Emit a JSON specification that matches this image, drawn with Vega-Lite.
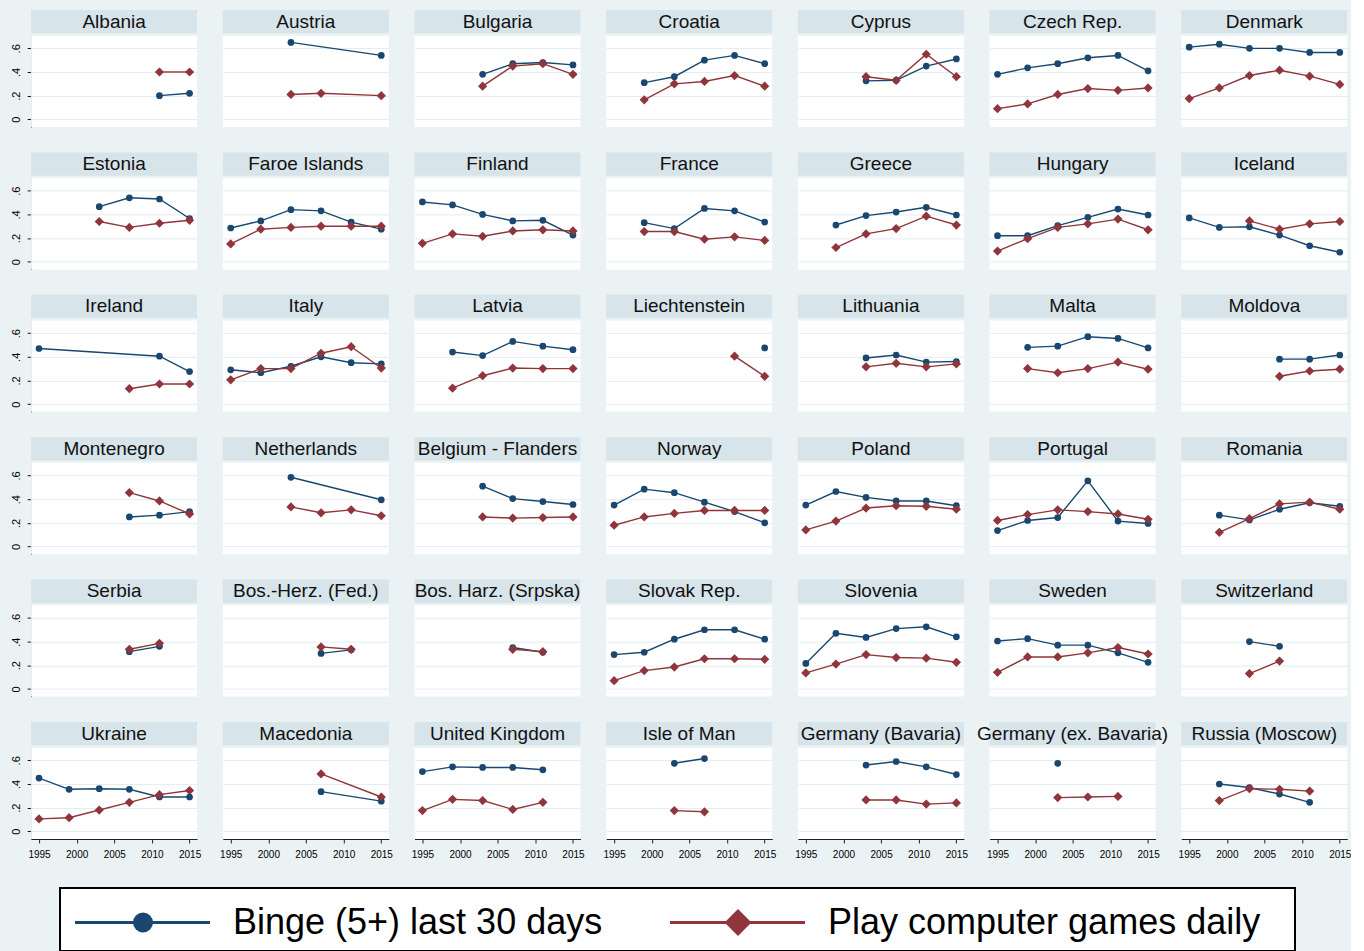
{
 "$schema": "https://vega.github.io/schema/vega-lite/v6.json",
 "background": "#EAF2F3",
 "padding": {"left": 0, "top": 6, "right": 0, "bottom": 0},
 "autosize": {"type": "pad"},
 "config": {
  "font": "Liberation Sans",
  "view": {"stroke": null},
  "header": {"labels": false, "labelFontSize": 0, "labelPadding": 0, "labelExpr": "''", "titlePadding": 0},
  "headerFacet": {"labels": false, "labelFontSize": 0, "labelPadding": 0, "labelExpr": "''"},
  "axisY": {"labelOverlap": false, "labelAngle": -90, "labelAlign": "center", "labelBaseline": "bottom"},
  "axisX": {"labelOverlap": false}
 },
 "datasets": {
  "legend": [
   {"series": "Binge", "label": "Binge (5+) last 30 days"},
   {"series": "Games", "label": "Play computer games daily"}
  ],
  "main": [
   {"country":"Albania","series":"Binge","year":2011,"value":0.20},
   {"country":"Albania","series":"Binge","year":2015,"value":0.22},
   {"country":"Albania","series":"Games","year":2011,"value":0.40},
   {"country":"Albania","series":"Games","year":2015,"value":0.40},
   {"country":"Austria","series":"Binge","year":2003,"value":0.65},
   {"country":"Austria","series":"Binge","year":2015,"value":0.54},
   {"country":"Austria","series":"Games","year":2003,"value":0.21},
   {"country":"Austria","series":"Games","year":2007,"value":0.22},
   {"country":"Austria","series":"Games","year":2015,"value":0.20},
   {"country":"Bulgaria","series":"Binge","year":2003,"value":0.38},
   {"country":"Bulgaria","series":"Binge","year":2007,"value":0.47},
   {"country":"Bulgaria","series":"Binge","year":2011,"value":0.48},
   {"country":"Bulgaria","series":"Binge","year":2015,"value":0.46},
   {"country":"Bulgaria","series":"Games","year":2003,"value":0.28},
   {"country":"Bulgaria","series":"Games","year":2007,"value":0.45},
   {"country":"Bulgaria","series":"Games","year":2011,"value":0.47},
   {"country":"Bulgaria","series":"Games","year":2015,"value":0.38},
   {"country":"Croatia","series":"Binge","year":1999,"value":0.31},
   {"country":"Croatia","series":"Binge","year":2003,"value":0.36},
   {"country":"Croatia","series":"Binge","year":2007,"value":0.50},
   {"country":"Croatia","series":"Binge","year":2011,"value":0.54},
   {"country":"Croatia","series":"Binge","year":2015,"value":0.47},
   {"country":"Croatia","series":"Games","year":1999,"value":0.165},
   {"country":"Croatia","series":"Games","year":2003,"value":0.30},
   {"country":"Croatia","series":"Games","year":2007,"value":0.32},
   {"country":"Croatia","series":"Games","year":2011,"value":0.37},
   {"country":"Croatia","series":"Games","year":2015,"value":0.28},
   {"country":"Cyprus","series":"Binge","year":2003,"value":0.325},
   {"country":"Cyprus","series":"Binge","year":2007,"value":0.33},
   {"country":"Cyprus","series":"Binge","year":2011,"value":0.45},
   {"country":"Cyprus","series":"Binge","year":2015,"value":0.51},
   {"country":"Cyprus","series":"Games","year":2003,"value":0.36},
   {"country":"Cyprus","series":"Games","year":2007,"value":0.33},
   {"country":"Cyprus","series":"Games","year":2011,"value":0.55},
   {"country":"Cyprus","series":"Games","year":2015,"value":0.36},
   {"country":"Czech Rep.","series":"Binge","year":1995,"value":0.38},
   {"country":"Czech Rep.","series":"Binge","year":1999,"value":0.435},
   {"country":"Czech Rep.","series":"Binge","year":2003,"value":0.47},
   {"country":"Czech Rep.","series":"Binge","year":2007,"value":0.52},
   {"country":"Czech Rep.","series":"Binge","year":2011,"value":0.54},
   {"country":"Czech Rep.","series":"Binge","year":2015,"value":0.41},
   {"country":"Czech Rep.","series":"Games","year":1995,"value":0.09},
   {"country":"Czech Rep.","series":"Games","year":1999,"value":0.13},
   {"country":"Czech Rep.","series":"Games","year":2003,"value":0.21},
   {"country":"Czech Rep.","series":"Games","year":2007,"value":0.26},
   {"country":"Czech Rep.","series":"Games","year":2011,"value":0.245},
   {"country":"Czech Rep.","series":"Games","year":2015,"value":0.265},
   {"country":"Denmark","series":"Binge","year":1995,"value":0.61},
   {"country":"Denmark","series":"Binge","year":1999,"value":0.635},
   {"country":"Denmark","series":"Binge","year":2003,"value":0.60},
   {"country":"Denmark","series":"Binge","year":2007,"value":0.60},
   {"country":"Denmark","series":"Binge","year":2011,"value":0.565},
   {"country":"Denmark","series":"Binge","year":2015,"value":0.565},
   {"country":"Denmark","series":"Games","year":1995,"value":0.175},
   {"country":"Denmark","series":"Games","year":1999,"value":0.265},
   {"country":"Denmark","series":"Games","year":2003,"value":0.37},
   {"country":"Denmark","series":"Games","year":2007,"value":0.415},
   {"country":"Denmark","series":"Games","year":2011,"value":0.365},
   {"country":"Denmark","series":"Games","year":2015,"value":0.295},
   {"country":"Estonia","series":"Binge","year":2003,"value":0.465},
   {"country":"Estonia","series":"Binge","year":2007,"value":0.54},
   {"country":"Estonia","series":"Binge","year":2011,"value":0.53},
   {"country":"Estonia","series":"Binge","year":2015,"value":0.365},
   {"country":"Estonia","series":"Games","year":2003,"value":0.34},
   {"country":"Estonia","series":"Games","year":2007,"value":0.29},
   {"country":"Estonia","series":"Games","year":2011,"value":0.325},
   {"country":"Estonia","series":"Games","year":2015,"value":0.35},
   {"country":"Faroe Islands","series":"Binge","year":1995,"value":0.285},
   {"country":"Faroe Islands","series":"Binge","year":1999,"value":0.345},
   {"country":"Faroe Islands","series":"Binge","year":2003,"value":0.44},
   {"country":"Faroe Islands","series":"Binge","year":2007,"value":0.43},
   {"country":"Faroe Islands","series":"Binge","year":2011,"value":0.335},
   {"country":"Faroe Islands","series":"Binge","year":2015,"value":0.275},
   {"country":"Faroe Islands","series":"Games","year":1995,"value":0.15},
   {"country":"Faroe Islands","series":"Games","year":1999,"value":0.275},
   {"country":"Faroe Islands","series":"Games","year":2003,"value":0.29},
   {"country":"Faroe Islands","series":"Games","year":2007,"value":0.30},
   {"country":"Faroe Islands","series":"Games","year":2011,"value":0.30},
   {"country":"Faroe Islands","series":"Games","year":2015,"value":0.30},
   {"country":"Finland","series":"Binge","year":1995,"value":0.505},
   {"country":"Finland","series":"Binge","year":1999,"value":0.48},
   {"country":"Finland","series":"Binge","year":2003,"value":0.40},
   {"country":"Finland","series":"Binge","year":2007,"value":0.345},
   {"country":"Finland","series":"Binge","year":2011,"value":0.35},
   {"country":"Finland","series":"Binge","year":2015,"value":0.225},
   {"country":"Finland","series":"Games","year":1995,"value":0.155},
   {"country":"Finland","series":"Games","year":1999,"value":0.235},
   {"country":"Finland","series":"Games","year":2003,"value":0.215},
   {"country":"Finland","series":"Games","year":2007,"value":0.26},
   {"country":"Finland","series":"Games","year":2011,"value":0.27},
   {"country":"Finland","series":"Games","year":2015,"value":0.26},
   {"country":"France","series":"Binge","year":1999,"value":0.33},
   {"country":"France","series":"Binge","year":2003,"value":0.28},
   {"country":"France","series":"Binge","year":2007,"value":0.45},
   {"country":"France","series":"Binge","year":2011,"value":0.43},
   {"country":"France","series":"Binge","year":2015,"value":0.335},
   {"country":"France","series":"Games","year":1999,"value":0.255},
   {"country":"France","series":"Games","year":2003,"value":0.255},
   {"country":"France","series":"Games","year":2007,"value":0.19},
   {"country":"France","series":"Games","year":2011,"value":0.21},
   {"country":"France","series":"Games","year":2015,"value":0.18},
   {"country":"Greece","series":"Binge","year":1999,"value":0.31},
   {"country":"Greece","series":"Binge","year":2003,"value":0.39},
   {"country":"Greece","series":"Binge","year":2007,"value":0.42},
   {"country":"Greece","series":"Binge","year":2011,"value":0.46},
   {"country":"Greece","series":"Binge","year":2015,"value":0.395},
   {"country":"Greece","series":"Games","year":1999,"value":0.12},
   {"country":"Greece","series":"Games","year":2003,"value":0.235},
   {"country":"Greece","series":"Games","year":2007,"value":0.28},
   {"country":"Greece","series":"Games","year":2011,"value":0.385},
   {"country":"Greece","series":"Games","year":2015,"value":0.31},
   {"country":"Hungary","series":"Binge","year":1995,"value":0.22},
   {"country":"Hungary","series":"Binge","year":1999,"value":0.22},
   {"country":"Hungary","series":"Binge","year":2003,"value":0.305},
   {"country":"Hungary","series":"Binge","year":2007,"value":0.375},
   {"country":"Hungary","series":"Binge","year":2011,"value":0.445},
   {"country":"Hungary","series":"Binge","year":2015,"value":0.395},
   {"country":"Hungary","series":"Games","year":1995,"value":0.09},
   {"country":"Hungary","series":"Games","year":1999,"value":0.195},
   {"country":"Hungary","series":"Games","year":2003,"value":0.29},
   {"country":"Hungary","series":"Games","year":2007,"value":0.32},
   {"country":"Hungary","series":"Games","year":2011,"value":0.36},
   {"country":"Hungary","series":"Games","year":2015,"value":0.27},
   {"country":"Iceland","series":"Binge","year":1995,"value":0.37},
   {"country":"Iceland","series":"Binge","year":1999,"value":0.29},
   {"country":"Iceland","series":"Binge","year":2003,"value":0.295},
   {"country":"Iceland","series":"Binge","year":2007,"value":0.225},
   {"country":"Iceland","series":"Binge","year":2011,"value":0.135},
   {"country":"Iceland","series":"Binge","year":2015,"value":0.08},
   {"country":"Iceland","series":"Games","year":2003,"value":0.345},
   {"country":"Iceland","series":"Games","year":2007,"value":0.275},
   {"country":"Iceland","series":"Games","year":2011,"value":0.32},
   {"country":"Iceland","series":"Games","year":2015,"value":0.34},
   {"country":"Ireland","series":"Binge","year":1995,"value":0.47},
   {"country":"Ireland","series":"Binge","year":2011,"value":0.405},
   {"country":"Ireland","series":"Binge","year":2015,"value":0.275},
   {"country":"Ireland","series":"Games","year":2007,"value":0.13},
   {"country":"Ireland","series":"Games","year":2011,"value":0.17},
   {"country":"Ireland","series":"Games","year":2015,"value":0.17},
   {"country":"Italy","series":"Binge","year":1995,"value":0.29},
   {"country":"Italy","series":"Binge","year":1999,"value":0.265},
   {"country":"Italy","series":"Binge","year":2003,"value":0.32},
   {"country":"Italy","series":"Binge","year":2007,"value":0.40},
   {"country":"Italy","series":"Binge","year":2011,"value":0.35},
   {"country":"Italy","series":"Binge","year":2015,"value":0.34},
   {"country":"Italy","series":"Games","year":1995,"value":0.205},
   {"country":"Italy","series":"Games","year":1999,"value":0.30},
   {"country":"Italy","series":"Games","year":2003,"value":0.30},
   {"country":"Italy","series":"Games","year":2007,"value":0.43},
   {"country":"Italy","series":"Games","year":2011,"value":0.485},
   {"country":"Italy","series":"Games","year":2015,"value":0.305},
   {"country":"Latvia","series":"Binge","year":1999,"value":0.44},
   {"country":"Latvia","series":"Binge","year":2003,"value":0.41},
   {"country":"Latvia","series":"Binge","year":2007,"value":0.53},
   {"country":"Latvia","series":"Binge","year":2011,"value":0.49},
   {"country":"Latvia","series":"Binge","year":2015,"value":0.46},
   {"country":"Latvia","series":"Games","year":1999,"value":0.135},
   {"country":"Latvia","series":"Games","year":2003,"value":0.24},
   {"country":"Latvia","series":"Games","year":2007,"value":0.305},
   {"country":"Latvia","series":"Games","year":2011,"value":0.30},
   {"country":"Latvia","series":"Games","year":2015,"value":0.30},
   {"country":"Liechtenstein","series":"Binge","year":2015,"value":0.475},
   {"country":"Liechtenstein","series":"Games","year":2011,"value":0.405},
   {"country":"Liechtenstein","series":"Games","year":2015,"value":0.235},
   {"country":"Lithuania","series":"Binge","year":2003,"value":0.39},
   {"country":"Lithuania","series":"Binge","year":2007,"value":0.415},
   {"country":"Lithuania","series":"Binge","year":2011,"value":0.355},
   {"country":"Lithuania","series":"Binge","year":2015,"value":0.36},
   {"country":"Lithuania","series":"Games","year":2003,"value":0.315},
   {"country":"Lithuania","series":"Games","year":2007,"value":0.345},
   {"country":"Lithuania","series":"Games","year":2011,"value":0.315},
   {"country":"Lithuania","series":"Games","year":2015,"value":0.34},
   {"country":"Malta","series":"Binge","year":1999,"value":0.48},
   {"country":"Malta","series":"Binge","year":2003,"value":0.49},
   {"country":"Malta","series":"Binge","year":2007,"value":0.57},
   {"country":"Malta","series":"Binge","year":2011,"value":0.555},
   {"country":"Malta","series":"Binge","year":2015,"value":0.475},
   {"country":"Malta","series":"Games","year":1999,"value":0.30},
   {"country":"Malta","series":"Games","year":2003,"value":0.265},
   {"country":"Malta","series":"Games","year":2007,"value":0.30},
   {"country":"Malta","series":"Games","year":2011,"value":0.355},
   {"country":"Malta","series":"Games","year":2015,"value":0.295},
   {"country":"Moldova","series":"Binge","year":2007,"value":0.38},
   {"country":"Moldova","series":"Binge","year":2011,"value":0.38},
   {"country":"Moldova","series":"Binge","year":2015,"value":0.415},
   {"country":"Moldova","series":"Games","year":2007,"value":0.235},
   {"country":"Moldova","series":"Games","year":2011,"value":0.28},
   {"country":"Moldova","series":"Games","year":2015,"value":0.295},
   {"country":"Montenegro","series":"Binge","year":2007,"value":0.25},
   {"country":"Montenegro","series":"Binge","year":2011,"value":0.265},
   {"country":"Montenegro","series":"Binge","year":2015,"value":0.295},
   {"country":"Montenegro","series":"Games","year":2007,"value":0.455},
   {"country":"Montenegro","series":"Games","year":2011,"value":0.385},
   {"country":"Montenegro","series":"Games","year":2015,"value":0.275},
   {"country":"Netherlands","series":"Binge","year":2003,"value":0.585},
   {"country":"Netherlands","series":"Binge","year":2015,"value":0.395},
   {"country":"Netherlands","series":"Games","year":2003,"value":0.335},
   {"country":"Netherlands","series":"Games","year":2007,"value":0.285},
   {"country":"Netherlands","series":"Games","year":2011,"value":0.31},
   {"country":"Netherlands","series":"Games","year":2015,"value":0.26},
   {"country":"Belgium - Flanders","series":"Binge","year":2003,"value":0.51},
   {"country":"Belgium - Flanders","series":"Binge","year":2007,"value":0.405},
   {"country":"Belgium - Flanders","series":"Binge","year":2011,"value":0.38},
   {"country":"Belgium - Flanders","series":"Binge","year":2015,"value":0.355},
   {"country":"Belgium - Flanders","series":"Games","year":2003,"value":0.25},
   {"country":"Belgium - Flanders","series":"Games","year":2007,"value":0.24},
   {"country":"Belgium - Flanders","series":"Games","year":2011,"value":0.245},
   {"country":"Belgium - Flanders","series":"Games","year":2015,"value":0.25},
   {"country":"Norway","series":"Binge","year":1995,"value":0.35},
   {"country":"Norway","series":"Binge","year":1999,"value":0.485},
   {"country":"Norway","series":"Binge","year":2003,"value":0.455},
   {"country":"Norway","series":"Binge","year":2007,"value":0.375},
   {"country":"Norway","series":"Binge","year":2011,"value":0.295},
   {"country":"Norway","series":"Binge","year":2015,"value":0.20},
   {"country":"Norway","series":"Games","year":1995,"value":0.18},
   {"country":"Norway","series":"Games","year":1999,"value":0.25},
   {"country":"Norway","series":"Games","year":2003,"value":0.28},
   {"country":"Norway","series":"Games","year":2007,"value":0.305},
   {"country":"Norway","series":"Games","year":2011,"value":0.305},
   {"country":"Norway","series":"Games","year":2015,"value":0.305},
   {"country":"Poland","series":"Binge","year":1995,"value":0.35},
   {"country":"Poland","series":"Binge","year":1999,"value":0.465},
   {"country":"Poland","series":"Binge","year":2003,"value":0.415},
   {"country":"Poland","series":"Binge","year":2007,"value":0.385},
   {"country":"Poland","series":"Binge","year":2011,"value":0.385},
   {"country":"Poland","series":"Binge","year":2015,"value":0.345},
   {"country":"Poland","series":"Games","year":1995,"value":0.14},
   {"country":"Poland","series":"Games","year":1999,"value":0.215},
   {"country":"Poland","series":"Games","year":2003,"value":0.325},
   {"country":"Poland","series":"Games","year":2007,"value":0.345},
   {"country":"Poland","series":"Games","year":2011,"value":0.34},
   {"country":"Poland","series":"Games","year":2015,"value":0.315},
   {"country":"Portugal","series":"Binge","year":1995,"value":0.135},
   {"country":"Portugal","series":"Binge","year":1999,"value":0.22},
   {"country":"Portugal","series":"Binge","year":2003,"value":0.245},
   {"country":"Portugal","series":"Binge","year":2007,"value":0.555},
   {"country":"Portugal","series":"Binge","year":2011,"value":0.215},
   {"country":"Portugal","series":"Binge","year":2015,"value":0.195},
   {"country":"Portugal","series":"Games","year":1995,"value":0.22},
   {"country":"Portugal","series":"Games","year":1999,"value":0.27},
   {"country":"Portugal","series":"Games","year":2003,"value":0.31},
   {"country":"Portugal","series":"Games","year":2007,"value":0.295},
   {"country":"Portugal","series":"Games","year":2011,"value":0.275},
   {"country":"Portugal","series":"Games","year":2015,"value":0.23},
   {"country":"Romania","series":"Binge","year":1999,"value":0.265},
   {"country":"Romania","series":"Binge","year":2003,"value":0.225},
   {"country":"Romania","series":"Binge","year":2007,"value":0.315},
   {"country":"Romania","series":"Binge","year":2011,"value":0.37},
   {"country":"Romania","series":"Binge","year":2015,"value":0.34},
   {"country":"Romania","series":"Games","year":1999,"value":0.12},
   {"country":"Romania","series":"Games","year":2003,"value":0.235},
   {"country":"Romania","series":"Games","year":2007,"value":0.36},
   {"country":"Romania","series":"Games","year":2011,"value":0.375},
   {"country":"Romania","series":"Games","year":2015,"value":0.315},
   {"country":"Serbia","series":"Binge","year":2007,"value":0.315},
   {"country":"Serbia","series":"Binge","year":2011,"value":0.36},
   {"country":"Serbia","series":"Games","year":2007,"value":0.335},
   {"country":"Serbia","series":"Games","year":2011,"value":0.385},
   {"country":"Bos.-Herz. (Fed.)","series":"Binge","year":2007,"value":0.30},
   {"country":"Bos.-Herz. (Fed.)","series":"Binge","year":2011,"value":0.33},
   {"country":"Bos.-Herz. (Fed.)","series":"Games","year":2007,"value":0.355},
   {"country":"Bos.-Herz. (Fed.)","series":"Games","year":2011,"value":0.335},
   {"country":"Bos. Harz. (Srpska)","series":"Binge","year":2007,"value":0.35},
   {"country":"Bos. Harz. (Srpska)","series":"Binge","year":2011,"value":0.31},
   {"country":"Bos. Harz. (Srpska)","series":"Games","year":2007,"value":0.335},
   {"country":"Bos. Harz. (Srpska)","series":"Games","year":2011,"value":0.315},
   {"country":"Slovak Rep.","series":"Binge","year":1995,"value":0.29},
   {"country":"Slovak Rep.","series":"Binge","year":1999,"value":0.31},
   {"country":"Slovak Rep.","series":"Binge","year":2003,"value":0.42},
   {"country":"Slovak Rep.","series":"Binge","year":2007,"value":0.50},
   {"country":"Slovak Rep.","series":"Binge","year":2011,"value":0.50},
   {"country":"Slovak Rep.","series":"Binge","year":2015,"value":0.42},
   {"country":"Slovak Rep.","series":"Games","year":1995,"value":0.07},
   {"country":"Slovak Rep.","series":"Games","year":1999,"value":0.155},
   {"country":"Slovak Rep.","series":"Games","year":2003,"value":0.185},
   {"country":"Slovak Rep.","series":"Games","year":2007,"value":0.255},
   {"country":"Slovak Rep.","series":"Games","year":2011,"value":0.255},
   {"country":"Slovak Rep.","series":"Games","year":2015,"value":0.25},
   {"country":"Slovenia","series":"Binge","year":1995,"value":0.215},
   {"country":"Slovenia","series":"Binge","year":1999,"value":0.47},
   {"country":"Slovenia","series":"Binge","year":2003,"value":0.435},
   {"country":"Slovenia","series":"Binge","year":2007,"value":0.51},
   {"country":"Slovenia","series":"Binge","year":2011,"value":0.525},
   {"country":"Slovenia","series":"Binge","year":2015,"value":0.44},
   {"country":"Slovenia","series":"Games","year":1995,"value":0.135},
   {"country":"Slovenia","series":"Games","year":1999,"value":0.21},
   {"country":"Slovenia","series":"Games","year":2003,"value":0.29},
   {"country":"Slovenia","series":"Games","year":2007,"value":0.265},
   {"country":"Slovenia","series":"Games","year":2011,"value":0.26},
   {"country":"Slovenia","series":"Games","year":2015,"value":0.225},
   {"country":"Sweden","series":"Binge","year":1995,"value":0.405},
   {"country":"Sweden","series":"Binge","year":1999,"value":0.425},
   {"country":"Sweden","series":"Binge","year":2003,"value":0.37},
   {"country":"Sweden","series":"Binge","year":2007,"value":0.37},
   {"country":"Sweden","series":"Binge","year":2011,"value":0.305},
   {"country":"Sweden","series":"Binge","year":2015,"value":0.225},
   {"country":"Sweden","series":"Games","year":1995,"value":0.14},
   {"country":"Sweden","series":"Games","year":1999,"value":0.27},
   {"country":"Sweden","series":"Games","year":2003,"value":0.27},
   {"country":"Sweden","series":"Games","year":2007,"value":0.305},
   {"country":"Sweden","series":"Games","year":2011,"value":0.35},
   {"country":"Sweden","series":"Games","year":2015,"value":0.295},
   {"country":"Switzerland","series":"Binge","year":2003,"value":0.40},
   {"country":"Switzerland","series":"Binge","year":2007,"value":0.36},
   {"country":"Switzerland","series":"Games","year":2003,"value":0.13},
   {"country":"Switzerland","series":"Games","year":2007,"value":0.235},
   {"country":"Ukraine","series":"Binge","year":1995,"value":0.45},
   {"country":"Ukraine","series":"Binge","year":1999,"value":0.355},
   {"country":"Ukraine","series":"Binge","year":2003,"value":0.36},
   {"country":"Ukraine","series":"Binge","year":2007,"value":0.355},
   {"country":"Ukraine","series":"Binge","year":2011,"value":0.29},
   {"country":"Ukraine","series":"Binge","year":2015,"value":0.29},
   {"country":"Ukraine","series":"Games","year":1995,"value":0.105},
   {"country":"Ukraine","series":"Games","year":1999,"value":0.115},
   {"country":"Ukraine","series":"Games","year":2003,"value":0.18},
   {"country":"Ukraine","series":"Games","year":2007,"value":0.245},
   {"country":"Ukraine","series":"Games","year":2011,"value":0.31},
   {"country":"Ukraine","series":"Games","year":2015,"value":0.345},
   {"country":"Macedonia","series":"Binge","year":2007,"value":0.335},
   {"country":"Macedonia","series":"Binge","year":2015,"value":0.255},
   {"country":"Macedonia","series":"Games","year":2007,"value":0.485},
   {"country":"Macedonia","series":"Games","year":2015,"value":0.29},
   {"country":"United Kingdom","series":"Binge","year":1995,"value":0.505},
   {"country":"United Kingdom","series":"Binge","year":1999,"value":0.545},
   {"country":"United Kingdom","series":"Binge","year":2003,"value":0.54},
   {"country":"United Kingdom","series":"Binge","year":2007,"value":0.54},
   {"country":"United Kingdom","series":"Binge","year":2011,"value":0.52},
   {"country":"United Kingdom","series":"Games","year":1995,"value":0.175},
   {"country":"United Kingdom","series":"Games","year":1999,"value":0.27},
   {"country":"United Kingdom","series":"Games","year":2003,"value":0.26},
   {"country":"United Kingdom","series":"Games","year":2007,"value":0.185},
   {"country":"United Kingdom","series":"Games","year":2011,"value":0.245},
   {"country":"Isle of Man","series":"Binge","year":2003,"value":0.575},
   {"country":"Isle of Man","series":"Binge","year":2007,"value":0.615},
   {"country":"Isle of Man","series":"Games","year":2003,"value":0.175},
   {"country":"Isle of Man","series":"Games","year":2007,"value":0.165},
   {"country":"Germany (Bavaria)","series":"Binge","year":2003,"value":0.56},
   {"country":"Germany (Bavaria)","series":"Binge","year":2007,"value":0.59},
   {"country":"Germany (Bavaria)","series":"Binge","year":2011,"value":0.545},
   {"country":"Germany (Bavaria)","series":"Binge","year":2015,"value":0.48},
   {"country":"Germany (Bavaria)","series":"Games","year":2003,"value":0.265},
   {"country":"Germany (Bavaria)","series":"Games","year":2007,"value":0.265},
   {"country":"Germany (Bavaria)","series":"Games","year":2011,"value":0.23},
   {"country":"Germany (Bavaria)","series":"Games","year":2015,"value":0.24},
   {"country":"Germany (ex. Bavaria)","series":"Binge","year":2003,"value":0.575},
   {"country":"Germany (ex. Bavaria)","series":"Games","year":2003,"value":0.285},
   {"country":"Germany (ex. Bavaria)","series":"Games","year":2007,"value":0.29},
   {"country":"Germany (ex. Bavaria)","series":"Games","year":2011,"value":0.295},
   {"country":"Russia (Moscow)","series":"Binge","year":1999,"value":0.40},
   {"country":"Russia (Moscow)","series":"Binge","year":2003,"value":0.37},
   {"country":"Russia (Moscow)","series":"Binge","year":2007,"value":0.315},
   {"country":"Russia (Moscow)","series":"Binge","year":2011,"value":0.245},
   {"country":"Russia (Moscow)","series":"Games","year":1999,"value":0.26},
   {"country":"Russia (Moscow)","series":"Games","year":2003,"value":0.36},
   {"country":"Russia (Moscow)","series":"Games","year":2007,"value":0.355},
   {"country":"Russia (Moscow)","series":"Games","year":2011,"value":0.34}
  ]
 },
 "center": true,
 "spacing": 28,
 "resolve": {"scale": {"size": "independent", "shape": "independent", "color": "independent"}},
 "vconcat": [
  {
   "data": {"name": "main"},
   "columns": 7,
   "bounds": "flush",
   "spacing": {"row": 25.4, "column": 25.7},
   "facet": {
    "field": "country", "type": "nominal",
    "sort": ["Albania","Austria","Bulgaria","Croatia","Cyprus","Czech Rep.","Denmark","Estonia","Faroe Islands","Finland","France","Greece","Hungary","Iceland","Ireland","Italy","Latvia","Liechtenstein","Lithuania","Malta","Moldova","Montenegro","Netherlands","Belgium - Flanders","Norway","Poland","Portugal","Romania","Serbia","Bos.-Herz. (Fed.)","Bos. Harz. (Srpska)","Slovak Rep.","Slovenia","Sweden","Switzerland","Ukraine","Macedonia","United Kingdom","Isle of Man","Germany (Bavaria)","Germany (ex. Bavaria)","Russia (Moscow)"],
    "header": {"labels": false, "title": null, "labelFontSize": 0, "labelPadding": 0, "labelExpr": "''"}
   },
   "spec": {
    "width": 166,
    "height": 117,
    "view": {"fill": "white", "stroke": null},
    "layer": [
     {
      "mark": {"type": "line", "strokeWidth": 1.4},
      "encoding": {
       "x": {"field": "year", "type": "quantitative", "title": null,
             "scale": {"domain": [1993.95, 2016.0], "nice": false, "zero": false},
             "axis": {"values": [1995, 2000, 2005, 2010, 2015], "format": "d", "grid": false, "tickSize": 4, "labelFontSize": 10, "labelPadding": 6, "labelFlush": false, "labelOverlap": false, "domainColor": "#222", "tickColor": "#222", "labelColor": "#000", "minExtent": 20, "maxExtent": 20}},
       "y": {"field": "value", "type": "quantitative", "title": null,
             "scale": {"domain": [-0.065, 0.924], "nice": false, "zero": false},
             "axis": {"values": [0, 0.2, 0.4, 0.6], "labelExpr": "datum.value == 0 ? '0' : replace(format(datum.value, '.1f'), '0.', '.')", "labelAngle": -90, "labelAlign": "center", "labelBaseline": "bottom", "labelOverlap": false, "grid": true, "gridColor": "#E4EDF0", "tickSize": 4, "labelFontSize": 11, "labelPadding": 6, "domainColor": "#222", "tickColor": "#222", "labelColor": "#000", "minExtent": 31, "maxExtent": 31}},
       "color": {"field": "series", "type": "nominal", "scale": {"domain": ["Binge", "Games"], "range": ["#1A476F", "#90353B"]}, "legend": null}
      }
     },
     {
      "mark": {"type": "point", "filled": true, "opacity": 1},
      "encoding": {
       "x": {"field": "year", "type": "quantitative", "title": null,
             "axis": {"values": [1995, 2000, 2005, 2010, 2015], "format": "d", "grid": false, "tickSize": 4, "labelFontSize": 10, "labelPadding": 6, "labelFlush": false, "labelOverlap": false, "domainColor": "#222", "tickColor": "#222", "labelColor": "#000", "minExtent": 20, "maxExtent": 20}},
       "y": {"field": "value", "type": "quantitative", "title": null,
             "axis": {"values": [0, 0.2, 0.4, 0.6], "labelExpr": "datum.value == 0 ? '0' : replace(format(datum.value, '.1f'), '0.', '.')", "labelAngle": -90, "labelAlign": "center", "labelBaseline": "bottom", "labelOverlap": false, "grid": true, "gridColor": "#E4EDF0", "tickSize": 4, "labelFontSize": 11, "labelPadding": 6, "domainColor": "#222", "tickColor": "#222", "labelColor": "#000", "minExtent": 31, "maxExtent": 31}},
       "color": {"field": "series", "type": "nominal", "legend": null},
       "shape": {"field": "series", "type": "nominal", "scale": {"domain": ["Binge", "Games"], "range": ["circle", "diamond"]}, "legend": null},
       "size": {"field": "series", "type": "nominal", "scale": {"domain": ["Binge", "Games"], "range": [45, 85]}, "legend": null}
      }
     },
     {
      "transform": [{"aggregate": [{"op": "count", "as": "n"}], "groupby": ["country"]}],
      "mark": {"type": "rect", "fill": "#EAF2F3"},
      "encoding": {
       "x": {"datum": 1993.0, "type": "quantitative", "title": null,
             "axis": {"values": [1995, 2000, 2005, 2010, 2015], "format": "d", "grid": false, "tickSize": 4, "labelFontSize": 10, "labelPadding": 6, "labelFlush": false, "labelOverlap": false, "domainColor": "#222", "tickColor": "#222", "labelColor": "#000", "minExtent": 20, "maxExtent": 20}},
       "x2": {"datum": 2016.0},
       "y": {"datum": 0.707, "type": "quantitative", "title": null,
             "axis": {"values": [0, 0.2, 0.4, 0.6], "labelExpr": "datum.value == 0 ? '0' : replace(format(datum.value, '.1f'), '0.', '.')", "labelAngle": -90, "labelAlign": "center", "labelBaseline": "bottom", "labelOverlap": false, "grid": true, "gridColor": "#E4EDF0", "tickSize": 4, "labelFontSize": 11, "labelPadding": 6, "domainColor": "#222", "tickColor": "#222", "labelColor": "#000", "minExtent": 31, "maxExtent": 31}},
       "y2": {"datum": 0.95}
      }
     },
     {
      "transform": [{"aggregate": [{"op": "count", "as": "n"}], "groupby": ["country"]}],
      "mark": {"type": "rect", "fill": "#D7E4EA"},
      "encoding": {
       "x": {"datum": 1993.95, "type": "quantitative", "title": null,
             "axis": {"values": [1995, 2000, 2005, 2010, 2015], "format": "d", "grid": false, "tickSize": 4, "labelFontSize": 10, "labelPadding": 6, "labelFlush": false, "labelOverlap": false, "domainColor": "#222", "tickColor": "#222", "labelColor": "#000", "minExtent": 20, "maxExtent": 20}},
       "x2": {"datum": 2016.0},
       "y": {"datum": 0.727, "type": "quantitative", "title": null,
             "axis": {"values": [0, 0.2, 0.4, 0.6], "labelExpr": "datum.value == 0 ? '0' : replace(format(datum.value, '.1f'), '0.', '.')", "labelAngle": -90, "labelAlign": "center", "labelBaseline": "bottom", "labelOverlap": false, "grid": true, "gridColor": "#E4EDF0", "tickSize": 4, "labelFontSize": 11, "labelPadding": 6, "domainColor": "#222", "tickColor": "#222", "labelColor": "#000", "minExtent": 31, "maxExtent": 31}},
       "y2": {"datum": 0.924}
      }
     },
     {
      "transform": [{"aggregate": [{"op": "count", "as": "n"}], "groupby": ["country"]}],
      "mark": {"type": "text", "fontSize": 19, "color": "#111", "baseline": "middle", "align": "center"},
      "encoding": {
       "x": {"datum": 2004.975, "type": "quantitative", "title": null,
             "axis": {"values": [1995, 2000, 2005, 2010, 2015], "format": "d", "grid": false, "tickSize": 4, "labelFontSize": 10, "labelPadding": 6, "labelFlush": false, "labelOverlap": false, "domainColor": "#222", "tickColor": "#222", "labelColor": "#000", "minExtent": 20, "maxExtent": 20}},
       "y": {"datum": 0.826, "type": "quantitative", "title": null,
             "axis": {"values": [0, 0.2, 0.4, 0.6], "labelExpr": "datum.value == 0 ? '0' : replace(format(datum.value, '.1f'), '0.', '.')", "labelAngle": -90, "labelAlign": "center", "labelBaseline": "bottom", "labelOverlap": false, "grid": true, "gridColor": "#E4EDF0", "tickSize": 4, "labelFontSize": 11, "labelPadding": 6, "domainColor": "#222", "tickColor": "#222", "labelColor": "#000", "minExtent": 31, "maxExtent": 31}},
       "text": {"field": "country", "type": "nominal"}
      }
     }
    ]
   }
  },
  {
   "data": {"name": "legend"},
   "width": 1235,
   "height": 63,
   "view": {"fill": "white", "stroke": "#000", "strokeWidth": 2},
   "encoding": {
    "x": {"field": "series", "type": "nominal", "scale": {"type": "point", "domain": ["Binge", "Games"], "range": [83, 678], "padding": 0}, "axis": null},
    "color": {"field": "series", "type": "nominal", "scale": {"domain": ["Binge", "Games"], "range": ["#1A476F", "#90353B"]}, "legend": null}
   },
   "layer": [
    {"mark": {"type": "rule", "strokeWidth": 1, "strokeOpacity": 0, "x2Offset": 583},
     "encoding": {"x2": {"field": "series"}}},
    {"mark": {"type": "rule", "strokeWidth": 3, "xOffset": -68, "x2Offset": 67, "yOffset": 3},
     "encoding": {"x2": {"field": "series"}}},
    {"mark": {"type": "point", "filled": true, "opacity": 1, "yOffset": 3},
     "encoding": {
      "shape": {"field": "series", "type": "nominal", "scale": {"domain": ["Binge", "Games"], "range": ["circle", "diamond"]}, "legend": null},
      "size": {"field": "series", "type": "nominal", "scale": {"domain": ["Binge", "Games"], "range": [400, 720]}, "legend": null}
     }},
    {"mark": {"type": "text", "align": "left", "baseline": "middle", "dx": 90, "dy": 3, "fontSize": 36},
     "encoding": {"text": {"field": "label", "type": "nominal"}, "color": {"value": "#000"}}}
   ]
  }
 ]
}
